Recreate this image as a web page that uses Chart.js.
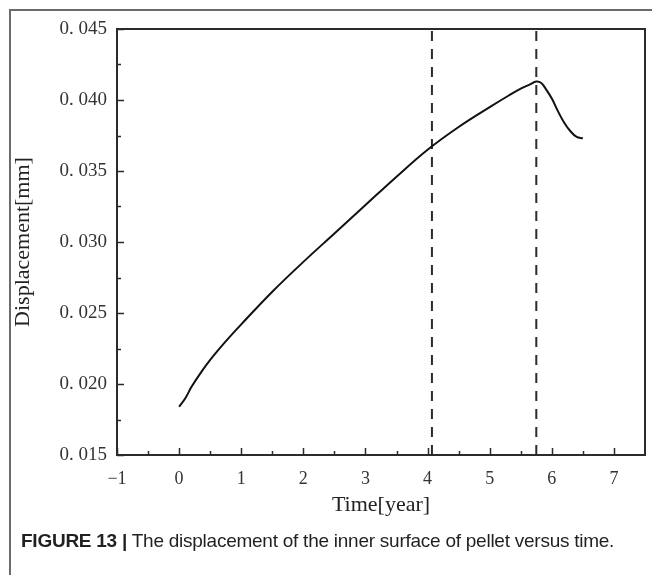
<!DOCTYPE html>
<html>
<head>
<meta charset="utf-8">
<script src="https://cdn.jsdelivr.net/npm/chart.js@4/dist/chart.umd.min.js"></script>
<style>
  html, body { margin: 0; padding: 0; background: #fff; }
  #wrap { position: relative; width: 652px; height: 575px; overflow: hidden; }
  #frame { position: absolute; left: 9px; top: 9px; width: 660px; height: 600px;
           border-top: 2px solid #6b6b6b; border-left: 2px solid #6b6b6b; }
  #chart { position: absolute; left: 0; top: 0; }
  #caption { position: absolute; left: 21px; top: 530px; font-family: "Liberation Sans", Arial, sans-serif;
             font-size: 19px; line-height: 22px; color: #231f20; white-space: nowrap; letter-spacing: -0.25px; }
  #caption b { font-weight: bold; }
</style>
</head>
<body>
<div id="wrap">
  <div id="frame"></div>
  <canvas id="chart" width="652" height="575"></canvas>
  <div id="caption"><b>FIGURE 13 |</b> The displacement of the inner surface of pellet versus time.</div>
</div>
<script>
// time in years, displacement in mm
const years = [0, 0.1, 0.2, 0.35, 0.5, 0.75, 1.0, 1.5, 2.0, 2.5, 3.0, 3.5, 4.0, 4.5, 5.0, 5.3, 5.5, 5.65, 5.75, 5.83, 5.9, 6.0, 6.1, 6.2, 6.3, 6.4, 6.5];
const displacement = [0.0184, 0.0190, 0.0198, 0.0208, 0.0217, 0.0230, 0.0242, 0.0265, 0.0286, 0.0306, 0.0326, 0.0346, 0.0365, 0.0381, 0.0395, 0.0403, 0.0408, 0.0411, 0.0413, 0.0412, 0.0408, 0.0401, 0.0392, 0.0384, 0.0378, 0.0374, 0.0373];

// vertical dashed markers
const markerYears = [4.07, 5.75];

const xTicks = [-1, 0, 1, 2, 3, 4, 5, 6, 7];
const xMinor = [-0.5, 0.5, 1.5, 2.5, 3.5, 4.5, 5.5, 6.5];
const yTicks = [0.015, 0.020, 0.025, 0.030, 0.035, 0.040, 0.045];
const yMinor = [0.0175, 0.0225, 0.0275, 0.0325, 0.0375, 0.0425];

const ink = '#2b2b2b';
const serif = '"Liberation Serif", "DejaVu Serif", serif';

const curve = years.map((t, i) => ({ x: t, y: displacement[i] }));
const markerSets = markerYears.map(t => ({
    data: [{ x: t, y: 0.015 }, { x: t, y: 0.045 }],
    borderColor: ink,
    borderWidth: 2,
    borderDash: [10, 8],
    pointRadius: 0,
    tension: 0
}));

// frame round the plot and inward tick marks
const boxTicks = {
    id: 'boxTicks',
    afterDatasetsDraw(chart) {
        const { ctx, chartArea: a, scales: { x, y } } = chart;
        ctx.save();
        ctx.strokeStyle = ink;
        ctx.lineWidth = 2;
        ctx.strokeRect(a.left, a.top, a.right - a.left, a.bottom - a.top);
        ctx.beginPath();
        xTicks.forEach(v => { const p = Math.round(x.getPixelForValue(v)) + 0.5; ctx.moveTo(p, a.bottom); ctx.lineTo(p, a.bottom - 7); });
        xMinor.forEach(v => { const p = Math.round(x.getPixelForValue(v)) + 0.5; ctx.moveTo(p, a.bottom); ctx.lineTo(p, a.bottom - 4); });
        yTicks.forEach(v => { const p = Math.round(y.getPixelForValue(v)) + 0.5; ctx.moveTo(a.left, p); ctx.lineTo(a.left + 7, p); });
        yMinor.forEach(v => { const p = Math.round(y.getPixelForValue(v)) + 0.5; ctx.moveTo(a.left, p); ctx.lineTo(a.left + 4, p); });
        ctx.lineWidth = 1.5;
        ctx.stroke();
        ctx.restore();
    }
};

new Chart(document.getElementById('chart'), {
    type: 'line',
    data: {
        datasets: [{
            data: curve,
            borderColor: '#111',
            borderWidth: 2,
            pointRadius: 0,
            tension: 0.4
        }, ...markerSets]
    },
    options: {
        responsive: false,
        animation: false,
        events: [],
        layout: { padding: { left: 0, top: 29, right: 7, bottom: 57 } },
        plugins: { legend: { display: false }, tooltip: { enabled: false } },
        scales: {
            x: {
                type: 'linear',
                min: -1,
                max: 7.5,
                afterBuildTicks: s => { s.ticks = xTicks.map(v => ({ value: v })); },
                afterFit: s => { s.height = 63; },
                grid: { display: false, drawTicks: false },
                border: { display: false },
                ticks: {
                    padding: 13,
                    color: '#333',
                    font: { family: serif, size: 18 },
                    maxRotation: 0,
                    callback: v => (v < 0 ? '\u2212' + Math.abs(v) : String(v))
                },
                title: {
                    display: true,
                    text: 'Time[year]',
                    color: '#222',
                    font: { family: serif, size: 22 },
                    padding: { top: 4, bottom: 0 }
                }
            },
            y: {
                min: 0.015,
                max: 0.045,
                afterBuildTicks: s => { s.ticks = yTicks.map(v => ({ value: v })); },
                afterFit: s => { s.width = 117; },
                grid: { display: false, drawTicks: false },
                border: { display: false },
                ticks: {
                    padding: 10,
                    color: '#333',
                    font: { family: serif, size: 19 },
                    callback: v => v.toFixed(3).replace('.', '. ')
                },
                title: {
                    display: true,
                    text: 'Displacement[mm]',
                    color: '#222',
                    font: { family: serif, size: 22 },
                    padding: { top: 10, bottom: 0 }
                }
            }
        }
    },
    plugins: [boxTicks]
});
</script>
</body>
</html>
